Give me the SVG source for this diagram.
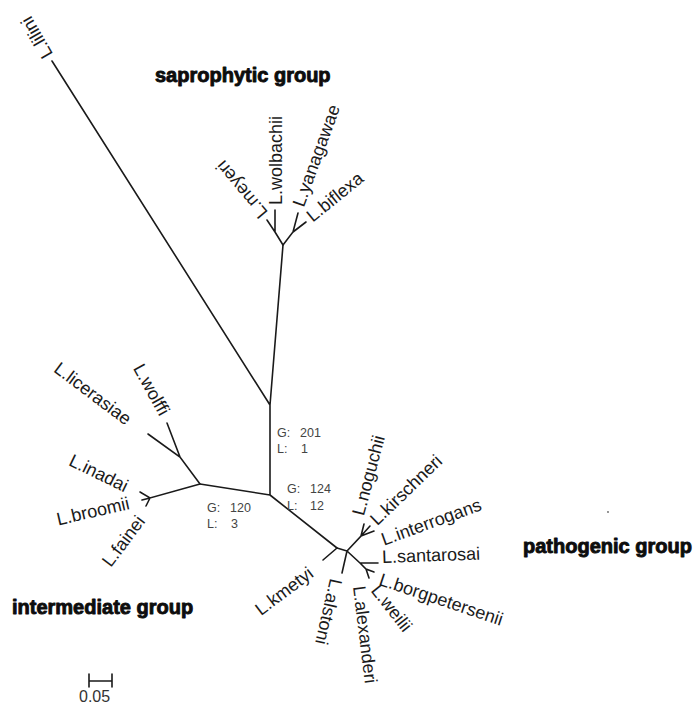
<svg xmlns="http://www.w3.org/2000/svg" width="697" height="708" viewBox="0 0 697 708">
<style>
.br{stroke:#1a1a1a;stroke-width:1.6;fill:none;stroke-linecap:round}
.sp{font-family:"Liberation Sans",Arial,sans-serif;font-size:18px;fill:#1a1a1a;dominant-baseline:central}
.fl{text-anchor:end}
.grp{font-family:"Liberation Sans",Arial,sans-serif;font-size:20px;font-weight:bold;fill:#0d0d0d;stroke:#0d0d0d;stroke-width:0.9;stroke-linejoin:round}
.sup{font-family:"Liberation Sans",Arial,sans-serif;font-size:12.5px;fill:#444}
</style>
<rect width="697" height="708" fill="#fff"/>
<g id="branches">
<path class="br" d="M52,61 L270,405 M270,405 L283,245 M270,405 L270,495 M270,495 L200,484 M270,495 L337,548"/>
<path class="br" d="M283,245 L275,232 L267,220 M275,232 L275,210 M283,245 L293,232 L298,213 M293,232 L306,222"/>
<path class="br" d="M200,484 L180,457 L148,434 M180,457 L167,423 M200,484 L150,498 L140,492 M150,498 L142,500 M150,498 L146,506"/>
<path class="br" d="M337,548 L323,560 M337,548 L347,551 L342,573 M347,551 L361,536 L364,524 M361,536 L370,526 M361,536 L374,531 M347,551 L360,563 L378,563 M360,563 L366,569 L374,572 M366,569 L369,578"/>
</g>
<g id="lilini"><text class="sp" transform="translate(48,57) rotate(-120)">L.lilini</text></g>
<g id="meyeri"><text class="sp" transform="translate(264,216) rotate(-130)">L.meyeri</text></g>
<g id="wolbachii"><text class="sp" transform="translate(276,205) rotate(-90)">L.wolbachii</text></g>
<g id="yanagawae"><text class="sp" transform="translate(298,206) rotate(-70)">L.yanagawae</text></g>
<g id="biflexa"><text class="sp" transform="translate(309,218) rotate(-39)">L.biflexa</text></g>
<g id="licerasiae"><text class="sp fl" transform="translate(129,421) rotate(37)">L.licerasiae</text></g>
<g id="wolffi"><text class="sp fl" transform="translate(165,414) rotate(61)">L.wolffi</text></g>
<g id="inadai"><text class="sp fl" transform="translate(127,487) rotate(26)">L.inadai</text></g>
<g id="broomii"><text class="sp fl" transform="translate(129,503) rotate(-13)">L.broomii</text></g>
<g id="fainei"><text class="sp fl" transform="translate(141,518) rotate(-53)">L.fainei</text></g>
<g id="kmetyi"><text class="sp fl" transform="translate(311,571) rotate(-37)">L.kmetyi</text></g>
<g id="noguchii"><text class="sp" transform="translate(358,515) rotate(-75)">L.noguchii</text></g>
<g id="kirschneri"><text class="sp" transform="translate(373,522) rotate(-44)">L.kirschneri</text></g>
<g id="interrogans"><text class="sp" transform="translate(382,540) rotate(-20)">L.interrogans</text></g>
<g id="santarosai"><text class="sp" transform="translate(382,557) rotate(-2)">L.santarosai</text></g>
<g id="borgpetersenii"><text class="sp" transform="translate(380,579) rotate(18.5)">L.borgpetersenii</text></g>
<g id="weilii"><text class="sp" transform="translate(375,587) rotate(52)">L.weilii</text></g>
<g id="alexanderi"><text class="sp" transform="translate(359,586) rotate(83)">L.alexanderi</text></g>
<g id="alstoni"><text class="sp" transform="translate(336,579) rotate(103)">L.alstoni</text></g>
<g id="support">
<text class="sup" x="277" y="437">G:</text><text class="sup" x="300" y="437">201</text>
<text class="sup" x="277" y="453">L:</text><text class="sup" x="301" y="453">1</text>
<text class="sup" x="287" y="493">G:</text><text class="sup" x="310" y="493">124</text>
<text class="sup" x="287" y="510">L:</text><text class="sup" x="310" y="510">12</text>
<text class="sup" x="207" y="512">G:</text><text class="sup" x="230" y="512">120</text>
<text class="sup" x="207" y="528">L:</text><text class="sup" x="231" y="528">3</text>
</g>
<g id="groups">
<text class="grp" x="155" y="82">saprophytic group</text>
<text class="grp" x="523" y="553">pathogenic group</text>
<text class="grp" x="12" y="614">intermediate group</text>
</g>
<g id="scale">
<path class="br" d="M89,674 L89,687 M112,674 L112,687 M89,681 L112,681" stroke-width="1.3"/>
<text x="79" y="702" font-family="Liberation Sans,Arial,sans-serif" font-size="16" fill="#333">0.05</text>
</g>
<circle cx="608" cy="512" r="0.9" fill="#666"/>
</svg>
